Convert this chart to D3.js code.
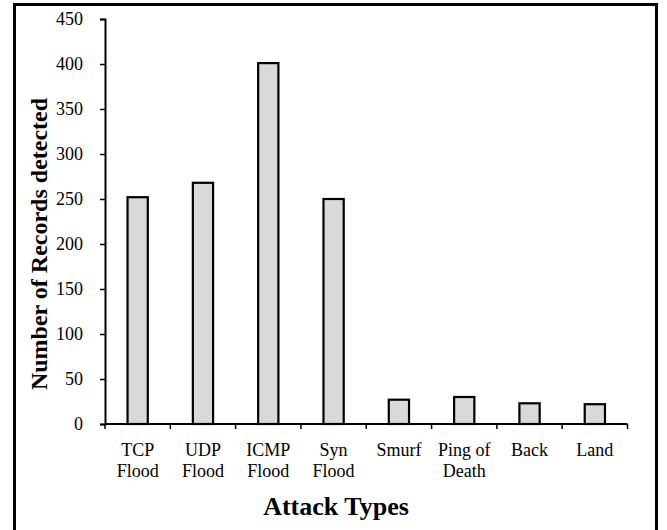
<!DOCTYPE html>
<html>
<head>
<meta charset="utf-8">
<script src="https://cdn.jsdelivr.net/npm/d3@7"></script>
<style>
  body { margin: 0; background: #fff; }
  svg text { font-family: "Liberation Serif", "Times New Roman", serif; fill: #000; }
</style>
</head>
<body>
<div id="grafico"></div>
<script>
// datos
var categorias = ["TCP Flood", "UDP Flood", "ICMP Flood", "Syn Flood", "Smurf", "Ping of Death", "Back", "Land"];
var etiquetas = [["TCP", "Flood"], ["UDP", "Flood"], ["ICMP", "Flood"], ["Syn", "Flood"], ["Smurf"], ["Ping of", "Death"], ["Back"], ["Land"]];
var registros = [252, 268, 401, 250, 27, 30, 23, 22];
var ticksY = [0, 50, 100, 150, 200, 250, 300, 350, 400, 450];

dibujarBarras()

function dibujarBarras(){
	var ancho = 667, alto = 530;
	var margin = {top: 19, left: 105, right: 40, bottom: 106};

	var svg = d3.select("#grafico")
		.append("svg")
		.attr("width", ancho)
		.attr("height", alto);

	// marco exterior
	svg.append("rect")
		.attr("x", 14.5).attr("y", 4.5)
		.attr("width", 642).attr("height", 540)
		.style("fill", "none")
		.style("stroke", "#000")
		.style("stroke-width", 3);

	var x = d3.scaleBand()
		.domain(categorias)
		.range([margin.left, 627.5])
		.paddingInner(0.69)
		.paddingOuter(0.345);

	var xEje = d3.scaleBand()
		.domain(categorias)
		.range([margin.left, 627.5]);

	var y = d3.scaleLinear()
		.domain([0, 450])
		.range([424, margin.top]);

	// barras
	svg.selectAll("rect.barra")
		.data(registros)
		.enter()
		.append("rect")
		.attr("class", "barra")
		.attr("x", (d, i) => x(categorias[i]))
		.attr("width", x.bandwidth())
		.attr("y", d => y(d))
		.attr("height", d => y(0) - y(d))
		.style("fill", "#d9d9d9")
		.style("stroke", "#000")
		.style("stroke-width", 2.2);

	// eje y
	var ejeY = svg.append("g")
		.attr("transform", "translate(" + margin.left + ",0)")
		.call(d3.axisLeft(y).tickValues(ticksY).tickSize(5).tickPadding(17));
	ejeY.select(".domain").style("stroke-width", 2);
	ejeY.selectAll(".tick line").style("stroke-width", 1.5);
	ejeY.selectAll("text").style("font-size", "18px");

	// eje x con marcas entre categorias
	var ejeX = svg.append("g")
		.attr("transform", "translate(0," + y(0) + ")");
	ejeX.append("line")
		.attr("x1", margin.left).attr("x2", 627.5)
		.style("stroke", "#000").style("stroke-width", 2);
	ejeX.selectAll("line.marca")
		.data(categorias.concat(["fin"]))
		.enter()
		.append("line")
		.attr("class", "marca")
		.attr("x1", (d, i) => margin.left + i * xEje.bandwidth())
		.attr("x2", (d, i) => margin.left + i * xEje.bandwidth())
		.attr("y1", 0).attr("y2", 5)
		.style("stroke", "#000").style("stroke-width", 1.5);

	// etiquetas de categorias en dos lineas
	var lbl = svg.selectAll("text.cat")
		.data(etiquetas)
		.enter()
		.append("text")
		.attr("class", "cat")
		.attr("text-anchor", "middle")
		.style("font-size", "18px")
		.attr("transform", (d, i) => "translate(" + (xEje(categorias[i]) + xEje.bandwidth() / 2) + ",456)");
	lbl.selectAll("tspan")
		.data(d => d)
		.enter()
		.append("tspan")
		.attr("x", 0)
		.attr("y", (d, i) => i * 21)
		.text(d => d);

	// titulos
	svg.append("text")
		.attr("x", 336)
		.attr("y", 515)
		.attr("text-anchor", "middle")
		.style("font-size", "26px")
		.style("font-weight", "bold")
		.text("Attack Types");

	svg.append("text")
		.attr("transform", "translate(47,244) rotate(-90)")
		.attr("text-anchor", "middle")
		.style("font-size", "24px")
		.style("font-weight", "bold")
		.text("Number of Records detected");
}
</script>
</body>
</html>
